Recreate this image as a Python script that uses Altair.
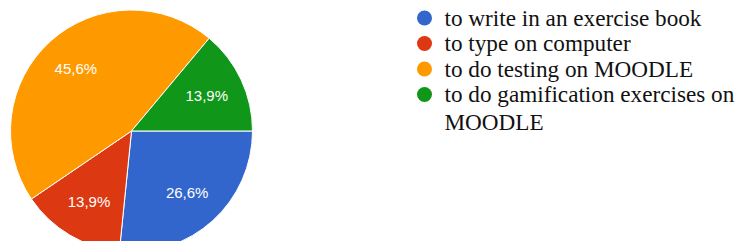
import math
import altair as alt
import pandas as pd

categories = ["to write in an exercise book", "to type on computer",
              "to do testing on MOODLE", "to do gamification exercises on\nMOODLE"]
values = [26.6, 13.9, 45.6, 13.9]
pct_labels = ["26,6%", "13,9%", "45,6%", "13,9%"]
colors = ["#3366cc", "#dc3912", "#ff9900", "#109618"]

df = pd.DataFrame({
    "cat": categories,
    "value": values,
    "pct": pct_labels,
    "idx": list(range(len(categories))),
})

color_scale = alt.Scale(domain=categories, range=colors)
theta_scale = alt.Scale(range=[math.pi / 2, math.pi / 2 + 2 * math.pi])

base = alt.Chart(df)

pie = base.mark_arc(outerRadius=121, stroke="white", strokeWidth=1).encode(
    theta=alt.Theta("value:Q", stack=True, scale=theta_scale),
    order=alt.Order("idx:Q"),
    color=alt.Color("cat:N", scale=color_scale, legend=None),
    x=alt.value(123.5),
    y=alt.value(123),
)

pie_text = base.mark_text(radius=83, font="Liberation Sans", fontSize=15,
                          color="white").encode(
    theta=alt.Theta("value:Q", stack=True, scale=theta_scale),
    order=alt.Order("idx:Q"),
    text="pct:N",
    x=alt.value(123.5),
    y=alt.value(123),
)

yscale = alt.Scale(domain=[0, 3], range=[10, 86.5])

leg_pts = base.mark_circle(size=225, opacity=1).encode(
    x=alt.value(416.5),
    y=alt.Y("idx:Q", scale=yscale, axis=None),
    color=alt.Color("cat:N", scale=color_scale, legend=None),
)

leg_txt = base.mark_text(align="left", baseline="alphabetic", dy=7.5,
                         font="Liberation Serif", fontSize=23.2, lineBreak="\n",
                         lineHeight=28, color="#111111").encode(
    x=alt.value(436.5),
    y=alt.Y("idx:Q", scale=yscale, axis=None),
    text="cat:N",
)

chart = alt.layer(pie, pie_text, leg_pts, leg_txt).properties(
    width=729, height=233, padding=0, autosize="none"
).configure(background="white").configure_view(strokeWidth=0)

chart.save("out.html", embed_options={"renderer": "svg", "actions": False})
